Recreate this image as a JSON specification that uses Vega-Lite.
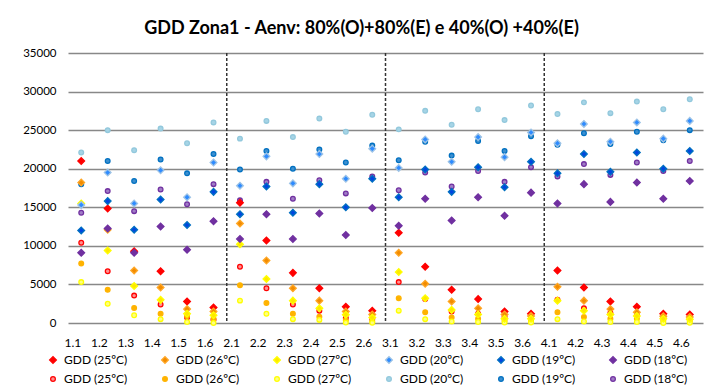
{
  "$schema": "https://vega.github.io/schema/vega-lite/v6.json",
  "width": 635,
  "height": 270,
  "autosize": {"type": "none"},
  "padding": {"left": 68, "top": 53, "right": 12, "bottom": 64},
  "background": "white",
  "title": {"text": "GDD Zona1 - Aenv: 80%(O)+80%(E) e 40%(O) +40%(E)", "font": "Lato", "fontSize": 18, "fontWeight": "bold", "color": "#000000", "anchor": "middle", "frame": "group", "dx": -24, "offset": 9},
  "config": {"view": {"stroke": null}, "font": "Lato"},
  "datasets": {
    "gdd": [
      {"cat":"1.1","series":"C25","gdd":10400},{"cat":"1.2","series":"C25","gdd":6700},{"cat":"1.3","series":"C25","gdd":3550},{"cat":"1.4","series":"C25","gdd":2400},{"cat":"1.5","series":"C25","gdd":700},{"cat":"1.6","series":"C25","gdd":430},
      {"cat":"2.1","series":"C25","gdd":7300},{"cat":"2.2","series":"C25","gdd":4500},{"cat":"2.3","series":"C25","gdd":2400},{"cat":"2.4","series":"C25","gdd":1600},{"cat":"2.5","series":"C25","gdd":650},{"cat":"2.6","series":"C25","gdd":560},
      {"cat":"3.1","series":"C25","gdd":5300},{"cat":"3.2","series":"C25","gdd":3100},{"cat":"3.3","series":"C25","gdd":1500},{"cat":"3.4","series":"C25","gdd":1200},{"cat":"3.5","series":"C25","gdd":800},{"cat":"3.6","series":"C25","gdd":600},
      {"cat":"4.1","series":"C25","gdd":3000},{"cat":"4.2","series":"C25","gdd":1900},{"cat":"4.3","series":"C25","gdd":1300},{"cat":"4.4","series":"C25","gdd":1000},{"cat":"4.5","series":"C25","gdd":700},{"cat":"4.6","series":"C25","gdd":600},

      {"cat":"1.1","series":"C26","gdd":7700},{"cat":"1.2","series":"C26","gdd":4300},{"cat":"1.3","series":"C26","gdd":1950},{"cat":"1.4","series":"C26","gdd":1200},{"cat":"1.5","series":"C26","gdd":900},{"cat":"1.6","series":"C26","gdd":560},
      {"cat":"2.1","series":"C26","gdd":4900},{"cat":"2.2","series":"C26","gdd":2600},{"cat":"2.3","series":"C26","gdd":1200},{"cat":"2.4","series":"C26","gdd":800},{"cat":"2.5","series":"C26","gdd":350},{"cat":"2.6","series":"C26","gdd":220},
      {"cat":"3.1","series":"C26","gdd":3200},{"cat":"3.2","series":"C26","gdd":1400},{"cat":"3.3","series":"C26","gdd":700},{"cat":"3.4","series":"C26","gdd":560},{"cat":"3.5","series":"C26","gdd":300},{"cat":"3.6","series":"C26","gdd":250},
      {"cat":"4.1","series":"C26","gdd":1400},{"cat":"4.2","series":"C26","gdd":780},{"cat":"4.3","series":"C26","gdd":560},{"cat":"4.4","series":"C26","gdd":560},{"cat":"4.5","series":"C26","gdd":300},{"cat":"4.6","series":"C26","gdd":250},

      {"cat":"1.1","series":"C27","gdd":5300},{"cat":"1.2","series":"C27","gdd":2500},{"cat":"1.3","series":"C27","gdd":1000},{"cat":"1.4","series":"C27","gdd":500},{"cat":"1.5","series":"C27","gdd":130},{"cat":"1.6","series":"C27","gdd":0},
      {"cat":"2.1","series":"C27","gdd":2900},{"cat":"2.2","series":"C27","gdd":1200},{"cat":"2.3","series":"C27","gdd":500},{"cat":"2.4","series":"C27","gdd":400},{"cat":"2.5","series":"C27","gdd":50},{"cat":"2.6","series":"C27","gdd":30},
      {"cat":"3.1","series":"C27","gdd":1600},{"cat":"3.2","series":"C27","gdd":500},{"cat":"3.3","series":"C27","gdd":200},{"cat":"3.4","series":"C27","gdd":130},{"cat":"3.5","series":"C27","gdd":50},{"cat":"3.6","series":"C27","gdd":50},
      {"cat":"4.1","series":"C27","gdd":500},{"cat":"4.2","series":"C27","gdd":200},{"cat":"4.3","series":"C27","gdd":130},{"cat":"4.4","series":"C27","gdd":130},{"cat":"4.5","series":"C27","gdd":0},{"cat":"4.6","series":"C27","gdd":30},

      {"cat":"1.1","series":"C20","gdd":22100},{"cat":"1.2","series":"C20","gdd":25000},{"cat":"1.3","series":"C20","gdd":22400},{"cat":"1.4","series":"C20","gdd":25200},{"cat":"1.5","series":"C20","gdd":23300},{"cat":"1.6","series":"C20","gdd":26000},
      {"cat":"2.1","series":"C20","gdd":23900},{"cat":"2.2","series":"C20","gdd":26200},{"cat":"2.3","series":"C20","gdd":24100},{"cat":"2.4","series":"C20","gdd":26500},{"cat":"2.5","series":"C20","gdd":24800},{"cat":"2.6","series":"C20","gdd":27000},
      {"cat":"3.1","series":"C20","gdd":25100},{"cat":"3.2","series":"C20","gdd":27500},{"cat":"3.3","series":"C20","gdd":25700},{"cat":"3.4","series":"C20","gdd":27700},{"cat":"3.5","series":"C20","gdd":26300},{"cat":"3.6","series":"C20","gdd":28200},
      {"cat":"4.1","series":"C20","gdd":27100},{"cat":"4.2","series":"C20","gdd":28600},{"cat":"4.3","series":"C20","gdd":27200},{"cat":"4.4","series":"C20","gdd":28700},{"cat":"4.5","series":"C20","gdd":27700},{"cat":"4.6","series":"C20","gdd":29000},

      {"cat":"1.1","series":"C19","gdd":18000},{"cat":"1.2","series":"C19","gdd":21000},{"cat":"1.3","series":"C19","gdd":18400},{"cat":"1.4","series":"C19","gdd":21200},{"cat":"1.5","series":"C19","gdd":19400},{"cat":"1.6","series":"C19","gdd":21900},
      {"cat":"2.1","series":"C19","gdd":19900},{"cat":"2.2","series":"C19","gdd":22300},{"cat":"2.3","series":"C19","gdd":20000},{"cat":"2.4","series":"C19","gdd":22500},{"cat":"2.5","series":"C19","gdd":20800},{"cat":"2.6","series":"C19","gdd":23000},
      {"cat":"3.1","series":"C19","gdd":21100},{"cat":"3.2","series":"C19","gdd":23500},{"cat":"3.3","series":"C19","gdd":21700},{"cat":"3.4","series":"C19","gdd":23600},{"cat":"3.5","series":"C19","gdd":22300},{"cat":"3.6","series":"C19","gdd":24200},
      {"cat":"4.1","series":"C19","gdd":23100},{"cat":"4.2","series":"C19","gdd":24600},{"cat":"4.3","series":"C19","gdd":23200},{"cat":"4.4","series":"C19","gdd":24800},{"cat":"4.5","series":"C19","gdd":23700},{"cat":"4.6","series":"C19","gdd":25000},

      {"cat":"1.1","series":"C18","gdd":14300},{"cat":"1.2","series":"C18","gdd":17100},{"cat":"1.3","series":"C18","gdd":14500},{"cat":"1.4","series":"C18","gdd":17300},{"cat":"1.5","series":"C18","gdd":15400},{"cat":"1.6","series":"C18","gdd":18000},
      {"cat":"2.1","series":"C18","gdd":15900},{"cat":"2.2","series":"C18","gdd":18300},{"cat":"2.3","series":"C18","gdd":16100},{"cat":"2.4","series":"C18","gdd":18500},{"cat":"2.5","series":"C18","gdd":16800},{"cat":"2.6","series":"C18","gdd":19000},
      {"cat":"3.1","series":"C18","gdd":17200},{"cat":"3.2","series":"C18","gdd":19500},{"cat":"3.3","series":"C18","gdd":17700},{"cat":"3.4","series":"C18","gdd":19700},{"cat":"3.5","series":"C18","gdd":18300},{"cat":"3.6","series":"C18","gdd":20200},
      {"cat":"4.1","series":"C18","gdd":19000},{"cat":"4.2","series":"C18","gdd":20600},{"cat":"4.3","series":"C18","gdd":19200},{"cat":"4.4","series":"C18","gdd":20800},{"cat":"4.5","series":"C18","gdd":19700},{"cat":"4.6","series":"C18","gdd":21000},

      {"cat":"1.1","series":"D25","gdd":21000},{"cat":"1.2","series":"D25","gdd":14850},{"cat":"1.3","series":"D25","gdd":9300},{"cat":"1.4","series":"D25","gdd":6700},{"cat":"1.5","series":"D25","gdd":2800},{"cat":"1.6","series":"D25","gdd":2000},
      {"cat":"2.1","series":"D25","gdd":15600},{"cat":"2.2","series":"D25","gdd":10700},{"cat":"2.3","series":"D25","gdd":6500},{"cat":"2.4","series":"D25","gdd":4500},{"cat":"2.5","series":"D25","gdd":2100},{"cat":"2.6","series":"D25","gdd":1600},
      {"cat":"3.1","series":"D25","gdd":11700},{"cat":"3.2","series":"D25","gdd":7300},{"cat":"3.3","series":"D25","gdd":4300},{"cat":"3.4","series":"D25","gdd":3100},{"cat":"3.5","series":"D25","gdd":1500},{"cat":"3.6","series":"D25","gdd":1200},
      {"cat":"4.1","series":"D25","gdd":6800},{"cat":"4.2","series":"D25","gdd":4600},{"cat":"4.3","series":"D25","gdd":2800},{"cat":"4.4","series":"D25","gdd":2100},{"cat":"4.5","series":"D25","gdd":1200},{"cat":"4.6","series":"D25","gdd":1100},

      {"cat":"1.1","series":"D26","gdd":18200},{"cat":"1.2","series":"D26","gdd":12100},{"cat":"1.3","series":"D26","gdd":6800},{"cat":"1.4","series":"D26","gdd":4600},{"cat":"1.5","series":"D26","gdd":1800},{"cat":"1.6","series":"D26","gdd":1500},
      {"cat":"2.1","series":"D26","gdd":12900},{"cat":"2.2","series":"D26","gdd":8100},{"cat":"2.3","series":"D26","gdd":4500},{"cat":"2.4","series":"D26","gdd":2900},{"cat":"2.5","series":"D26","gdd":1500},{"cat":"2.6","series":"D26","gdd":1100},
      {"cat":"3.1","series":"D26","gdd":9100},{"cat":"3.2","series":"D26","gdd":5100},{"cat":"3.3","series":"D26","gdd":2800},{"cat":"3.4","series":"D26","gdd":1900},{"cat":"3.5","series":"D26","gdd":1100},{"cat":"3.6","series":"D26","gdd":900},
      {"cat":"4.1","series":"D26","gdd":4700},{"cat":"4.2","series":"D26","gdd":2900},{"cat":"4.3","series":"D26","gdd":1800},{"cat":"4.4","series":"D26","gdd":1400},{"cat":"4.5","series":"D26","gdd":870},{"cat":"4.6","series":"D26","gdd":780},

      {"cat":"1.1","series":"D27","gdd":15500},{"cat":"1.2","series":"D27","gdd":9400},{"cat":"1.3","series":"D27","gdd":4800},{"cat":"1.4","series":"D27","gdd":3000},{"cat":"1.5","series":"D27","gdd":1200},{"cat":"1.6","series":"D27","gdd":1000},
      {"cat":"2.1","series":"D27","gdd":10200},{"cat":"2.2","series":"D27","gdd":5700},{"cat":"2.3","series":"D27","gdd":2900},{"cat":"2.4","series":"D27","gdd":1900},{"cat":"2.5","series":"D27","gdd":1080},{"cat":"2.6","series":"D27","gdd":700},
      {"cat":"3.1","series":"D27","gdd":6600},{"cat":"3.2","series":"D27","gdd":3200},{"cat":"3.3","series":"D27","gdd":1700},{"cat":"3.4","series":"D27","gdd":1100},{"cat":"3.5","series":"D27","gdd":560},{"cat":"3.6","series":"D27","gdd":560},
      {"cat":"4.1","series":"D27","gdd":2900},{"cat":"4.2","series":"D27","gdd":1600},{"cat":"4.3","series":"D27","gdd":1100},{"cat":"4.4","series":"D27","gdd":900},{"cat":"4.5","series":"D27","gdd":560},{"cat":"4.6","series":"D27","gdd":480},

      {"cat":"1.1","series":"D20","gdd":15300},{"cat":"1.2","series":"D20","gdd":19500},{"cat":"1.3","series":"D20","gdd":15500},{"cat":"1.4","series":"D20","gdd":19800},{"cat":"1.5","series":"D20","gdd":16300},{"cat":"1.6","series":"D20","gdd":20800},
      {"cat":"2.1","series":"D20","gdd":17800},{"cat":"2.2","series":"D20","gdd":21600},{"cat":"2.3","series":"D20","gdd":18100},{"cat":"2.4","series":"D20","gdd":21900},{"cat":"2.5","series":"D20","gdd":18700},{"cat":"2.6","series":"D20","gdd":22600},
      {"cat":"3.1","series":"D20","gdd":20100},{"cat":"3.2","series":"D20","gdd":23800},{"cat":"3.3","series":"D20","gdd":20900},{"cat":"3.4","series":"D20","gdd":24100},{"cat":"3.5","series":"D20","gdd":21500},{"cat":"3.6","series":"D20","gdd":24700},
      {"cat":"4.1","series":"D20","gdd":23300},{"cat":"4.2","series":"D20","gdd":25800},{"cat":"4.3","series":"D20","gdd":23500},{"cat":"4.4","series":"D20","gdd":26000},{"cat":"4.5","series":"D20","gdd":23900},{"cat":"4.6","series":"D20","gdd":26200},

      {"cat":"1.1","series":"D19","gdd":12000},{"cat":"1.2","series":"D19","gdd":15800},{"cat":"1.3","series":"D19","gdd":12100},{"cat":"1.4","series":"D19","gdd":16000},{"cat":"1.5","series":"D19","gdd":12700},{"cat":"1.6","series":"D19","gdd":17000},
      {"cat":"2.1","series":"D19","gdd":14100},{"cat":"2.2","series":"D19","gdd":17700},{"cat":"2.3","series":"D19","gdd":14300},{"cat":"2.4","series":"D19","gdd":18000},{"cat":"2.5","series":"D19","gdd":15000},{"cat":"2.6","series":"D19","gdd":18700},
      {"cat":"3.1","series":"D19","gdd":16300},{"cat":"3.2","series":"D19","gdd":19900},{"cat":"3.3","series":"D19","gdd":17000},{"cat":"3.4","series":"D19","gdd":20200},{"cat":"3.5","series":"D19","gdd":17600},{"cat":"3.6","series":"D19","gdd":20900},
      {"cat":"4.1","series":"D19","gdd":19400},{"cat":"4.2","series":"D19","gdd":21900},{"cat":"4.3","series":"D19","gdd":19600},{"cat":"4.4","series":"D19","gdd":22100},{"cat":"4.5","series":"D19","gdd":20000},{"cat":"4.6","series":"D19","gdd":22300},

      {"cat":"1.1","series":"D18","gdd":9100},{"cat":"1.2","series":"D18","gdd":12250},{"cat":"1.3","series":"D18","gdd":9100},{"cat":"1.4","series":"D18","gdd":12500},{"cat":"1.5","series":"D18","gdd":9500},{"cat":"1.6","series":"D18","gdd":13200},
      {"cat":"2.1","series":"D18","gdd":10900},{"cat":"2.2","series":"D18","gdd":14100},{"cat":"2.3","series":"D18","gdd":10900},{"cat":"2.4","series":"D18","gdd":14200},{"cat":"2.5","series":"D18","gdd":11400},{"cat":"2.6","series":"D18","gdd":14900},
      {"cat":"3.1","series":"D18","gdd":12600},{"cat":"3.2","series":"D18","gdd":16100},{"cat":"3.3","series":"D18","gdd":13300},{"cat":"3.4","series":"D18","gdd":16300},{"cat":"3.5","series":"D18","gdd":13900},{"cat":"3.6","series":"D18","gdd":16900},
      {"cat":"4.1","series":"D18","gdd":15500},{"cat":"4.2","series":"D18","gdd":18000},{"cat":"4.3","series":"D18","gdd":15700},{"cat":"4.4","series":"D18","gdd":18200},{"cat":"4.5","series":"D18","gdd":16100},{"cat":"4.6","series":"D18","gdd":18400}
    ],
    "separators": [{"after": "1.6"}, {"after": "2.6"}, {"after": "3.6"}]
  },
  "layer": [
    {
      "data": {"name": "separators"},
      "mark": {"type": "rule", "color": "#333333", "strokeWidth": 1.5, "strokeDash": [3, 2]},
      "encoding": {
        "x": {"field": "after", "type": "ordinal", "bandPosition": 1}
      }
    },
    {
      "data": {"name": "gdd"},
      "mark": {"type": "point", "filled": true, "opacity": 1, "strokeWidth": 1.3},
      "encoding": {
        "x": {
          "field": "cat", "type": "ordinal",
          "scale": {"paddingInner": 0, "paddingOuter": 0},
          "axis": {"title": null, "labelAngle": 0, "labelFont": "Lato", "labelFontSize": 12, "labelColor": "#000000", "domain": false, "ticks": false, "grid": false, "labelPadding": 19}
        },
        "y": {
          "field": "gdd", "type": "quantitative",
          "scale": {"domain": [0, 35000], "nice": false},
          "axis": {"title": null, "values": [0, 5000, 10000, 15000, 20000, 25000, 30000, 35000], "format": "d", "labelFont": "Lato", "labelFontSize": 11.5, "labelColor": "#000000", "domain": false, "ticks": false, "labelPadding": 12, "grid": true, "gridColor": "#888888", "gridWidth": 1.6}
        },
        "fill": {
          "field": "series", "type": "nominal",
          "scale": {"domain": ["D25","D26","D27","D20","D19","D18","C25","C26","C27","C20","C19","C18"],
                    "range": ["#FF0000","#F28C00","#FFE800","#2E8BFF","#0046E0","#7030A0","#FF9090","#FFB300","#FFFF80","#A6D4E6","#3C8FD0","#A07CC6"]},
          "legend": {"title": null, "orient": "none", "legendX": -21, "legendY": 301, "direction": "horizontal", "columns": 6, "columnPadding": 31, "rowPadding": 7, "padding": 0, "labelFont": "Lato", "labelFontSize": 12, "labelColor": "#000000", "labelOffset": 5, "symbolStrokeWidth": 1.3, "labelExpr": "'GDD (' + slice(datum.label, 1) + 'ºC)'"}
        },
        "stroke": {
          "field": "series", "type": "nominal",
          "scale": {"domain": ["D25","D26","D27","D20","D19","D18","C25","C26","C27","C20","C19","C18"],
                    "range": ["#FF0000","#FFA726","#FFFF00","#9DC3E6","#0070C0","#7030A0","#FF0000","#FFB300","#FFFF00","#92C8DC","#0070C0","#7030A0"]},
          "legend": {"title": null, "orient": "none", "legendX": -21, "legendY": 301, "direction": "horizontal", "columns": 6, "columnPadding": 31, "rowPadding": 7, "padding": 0, "labelFont": "Lato", "labelFontSize": 12, "labelColor": "#000000", "labelOffset": 5, "symbolStrokeWidth": 1.3, "labelExpr": "'GDD (' + slice(datum.label, 1) + 'ºC)'"}
        },
        "shape": {
          "field": "series", "type": "nominal",
          "scale": {"domain": ["D25","D26","D27","D20","D19","D18","C25","C26","C27","C20","C19","C18"],
                    "range": ["diamond","diamond","diamond","diamond","diamond","diamond","circle","circle","circle","circle","circle","circle"]},
          "legend": {"title": null, "orient": "none", "legendX": -21, "legendY": 301, "direction": "horizontal", "columns": 6, "columnPadding": 31, "rowPadding": 7, "padding": 0, "labelFont": "Lato", "labelFontSize": 12, "labelColor": "#000000", "labelOffset": 5, "symbolStrokeWidth": 1.3, "labelExpr": "'GDD (' + slice(datum.label, 1) + 'ºC)'"}
        },
        "size": {
          "field": "series", "type": "nominal",
          "scale": {"type": "ordinal", "domain": ["D25","D26","D27","D20","D19","D18","C25","C26","C27","C20","C19","C18"],
                    "range": [45,45,45,45,45,45,22,22,22,22,22,22]},
          "legend": {"title": null, "orient": "none", "legendX": -21, "legendY": 301, "direction": "horizontal", "columns": 6, "columnPadding": 31, "rowPadding": 7, "padding": 0, "labelFont": "Lato", "labelFontSize": 12, "labelColor": "#000000", "labelOffset": 5, "symbolStrokeWidth": 1.3, "labelExpr": "'GDD (' + slice(datum.label, 1) + 'ºC)'"}
        }
      }
    }
  ]
}
